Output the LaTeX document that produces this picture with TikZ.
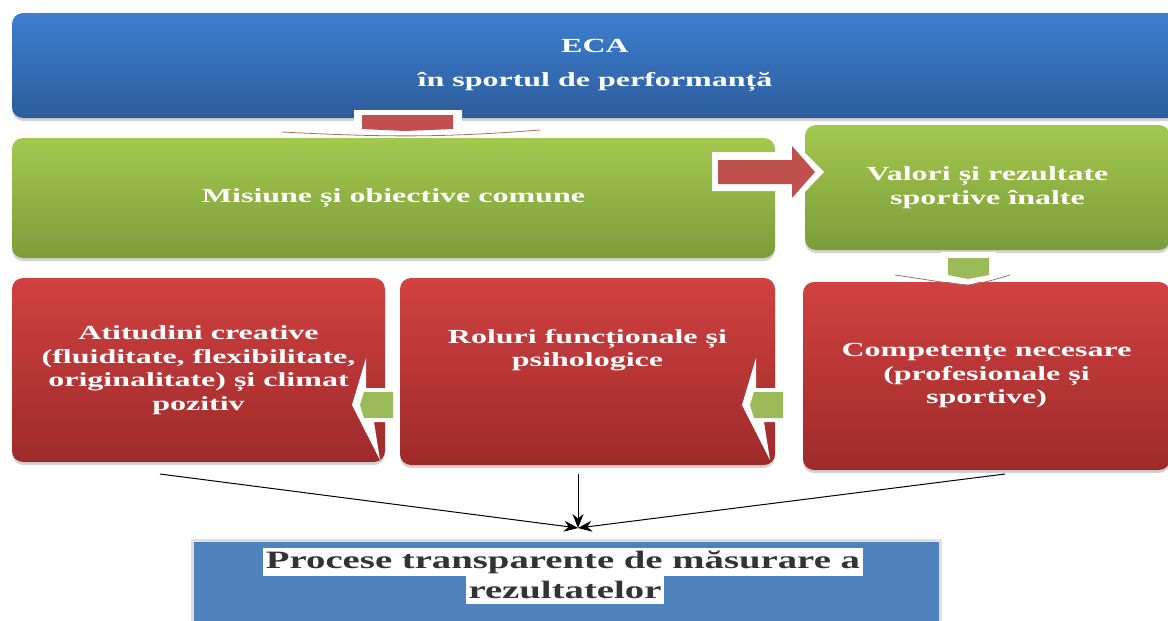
\documentclass[tikz,border=0pt]{standalone}
\usepackage{fontspec}
\setmainfont{Liberation Serif}
\newfontfamily\wf[FakeStretch=1.6]{Liberation Serif}
\newfontfamily\wfb[FakeStretch=1.55]{Liberation Serif}
\usetikzlibrary{shadows,arrows.meta}
\definecolor{bluetop}{HTML}{3D7FD0}
\definecolor{bluebot}{HTML}{2C5C9C}
\definecolor{greentop}{HTML}{A3C84E}
\definecolor{greenbot}{HTML}{7C9C3A}
\definecolor{redtop}{HTML}{D14141}
\definecolor{redbot}{HTML}{9E2A2A}
\definecolor{boxblue}{HTML}{4F81BD}
\definecolor{arrred}{HTML}{C0504D}
\definecolor{arrgreen}{HTML}{9BBB59}
\definecolor{txtgray}{HTML}{333333}
\definecolor{shadebrown}{HTML}{A07068}
\tikzset{
  card/.style={rounded corners=11pt, inner sep=4pt, align=center, text=white,
    font=\wf\bfseries\fontsize{20}{23.5}\selectfont,
    drop shadow={shadow xshift=0pt, shadow yshift=-3pt, opacity=0.35}},
  bluecard/.style={card, top color=bluetop, bottom color=bluebot},
  greencard/.style={card, top color=greentop, bottom color=greenbot},
  redcard/.style={card, top color=redtop, bottom color=redbot},
  whiteout/.style={fill=white, draw=none},
  hl/.style={fill=white, text=txtgray, inner xsep=3pt, inner ysep=0pt,
    minimum height=28pt, font=\wfb\bfseries\fontsize{25}{28}\selectfont},
  conn/.style={draw=black, line width=1pt, -{Stealth[length=14pt,width=11pt]}}
}
\begin{document}
\begin{tikzpicture}[x=1pt,y=-1pt]
\useasboundingbox (0,0) rectangle (1168,621);
\clip (0,0) rectangle (1168,621);
% boxes
\node[bluecard, minimum width=1166pt, minimum height=105pt] (top) at (595,65.5)
  {ECA\\[10pt] în sportul de performanță};
\node[greencard, minimum width=763pt, minimum height=120pt] (mis) at (393.5,198)
  {Misiune și obiective comune};
\node[greencard, minimum width=365pt, minimum height=125pt] (val) at (987.5,187.5)
  {Valori și rezultate\\ sportive înalte};
\node[redcard, minimum width=373pt, minimum height=184pt] (ati) at (198.5,370)
  {Atitudini creative\\ (fluiditate, flexibilitate,\\ originalitate) și climat\\ pozitiv};
\node[redcard, minimum width=375pt, minimum height=187pt] (rol) at (587.5,371.5)
  {Roluri funcționale și\\ psihologice\\[23.5pt]};
\node[redcard, minimum width=367pt, minimum height=188pt] (com) at (986.5,376)
  {Competențe necesare\\ (profesionale și\\ sportive)};
% block arrow: red down
\fill[whiteout] (354,110) -- (462,110) -- (462,124) -- (540,129) -- (405,137) -- (280,131) -- (354,124) -- cycle;
\draw[shadebrown, line width=0.8pt] (282,132) .. controls (380,137) and (440,138) .. (540,130);
\fill[arrred] (362,115) -- (453,115) -- (453,129) -- (405,131) -- (362,129) -- cycle;
% block arrow: red right
\fill[whiteout] (712,152) -- (785,152) -- (785,133) -- (824,172) -- (785,213) -- (785,191) -- (712,191) -- cycle;
\fill[arrred] (718,160) -- (792,160) -- (792,146) -- (815,172) -- (792,198) -- (792,184) -- (718,184) -- cycle;
% block arrow: green down
\fill[whiteout] (941,252) -- (996,252) -- (996,271) -- (1010,274) -- (968,285) -- (893,274) -- (941,271) -- cycle;
\draw[shadebrown, line width=0.8pt] (895,275) .. controls (930,280) and (950,284) .. (968,285) .. controls (985,283) and (1000,278) .. (1010,275);
\fill[arrgreen] (948,258) -- (989,258) -- (989,275) -- (968,279) -- (948,275) -- cycle;
% block arrows: green left
\fill[whiteout] (366,358) -- (366,388) -- (399,388) -- (399,422) -- (374,422) -- (380,460) -- (352,405) -- cycle;
\fill[arrgreen] (364,392) -- (393,392) -- (393,418) -- (364,418) -- (360,405) -- cycle;
\fill[whiteout] (756,358) -- (756,388) -- (789,388) -- (789,422) -- (764,422) -- (770,460) -- (742,405) -- cycle;
\fill[arrgreen] (754,392) -- (783,392) -- (783,418) -- (754,418) -- (750,405) -- cycle;
% bottom box
\node[fill=boxblue, draw=gray!25, line width=3pt, minimum width=748pt, minimum height=90pt, inner sep=0pt] (proc) at (566,585) {};
\node[hl] (p1) at (563,562) {Procese transparente de măsurare a};
\node[hl] (p2) at (565,590) {rezultatelor};
% connectors
\coordinate (s1) at (160,474);
\coordinate (s2) at (578,474);
\coordinate (s3) at (1005,474);
\coordinate (tg) at (578,528);
\draw[conn] (s1) -- (tg);
\draw[conn] (s2) -- (tg);
\draw[conn] (s3) -- (tg);
\end{tikzpicture}
\end{document}
